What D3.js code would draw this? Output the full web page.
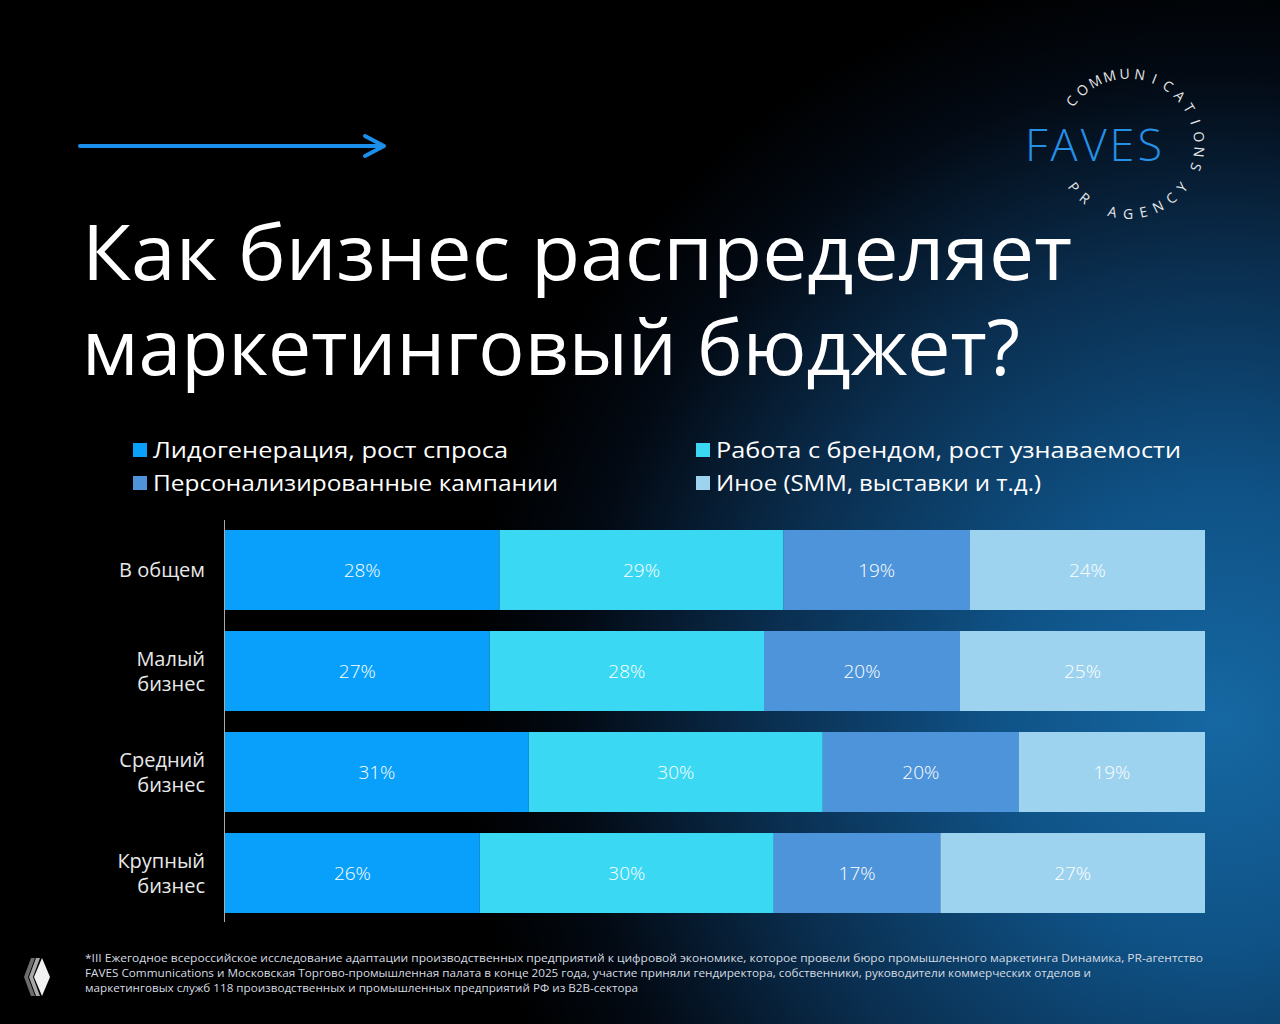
<!DOCTYPE html>
<html>
<head>
<meta charset="utf-8">
<script src="https://cdn.jsdelivr.net/npm/d3@7"></script>
<style>
  html, body { margin: 0; padding: 0; background: #000; }
  svg { display: block; }
</style>
</head>
<body>
<script>
// DATA
const categories = [['В общем'], ['Малый', 'бизнес'], ['Средний', 'бизнес'], ['Крупный', 'бизнес']];
const seriesNames = ['Лидогенерация, рост спроса', 'Работа с брендом, рост узнаваемости', 'Персонализированные кампании', 'Иное (SMM, выставки и т.д.)'];
const leadGen = [28, 27, 31, 26];
const brand = [29, 28, 30, 30];
const personal = [19, 20, 20, 17];
const other = [24, 25, 19, 27];
const colors = ['#08a0fa', '#3ad8f3', '#4d94da', '#9dd3ef'];

const width = 1280, height = 1024;
const fontMain = "'Open Sans', 'DejaVu Sans', sans-serif";

const svg = d3.select('body').append('svg').attr('width', width).attr('height', height);

// BACKGROUND
const defs = svg.append('defs');
const glow = defs.append('radialGradient').attr('id', 'glow')
    .attr('gradientUnits', 'userSpaceOnUse')
    .attr('cx', 1220).attr('cy', 720).attr('r', 760);
glow.append('stop').attr('offset', 0).attr('stop-color', '#1668a3');
glow.append('stop').attr('offset', 0.3).attr('stop-color', '#0f5286');
glow.append('stop').attr('offset', 0.6).attr('stop-color', '#0a2e4f');
glow.append('stop').attr('offset', 0.85).attr('stop-color', '#030a14');
glow.append('stop').attr('offset', 1).attr('stop-color', '#000');
svg.append('rect').attr('width', width).attr('height', height).attr('fill', '#000');
svg.append('rect').attr('width', width).attr('height', height).attr('fill', 'url(#glow)');

// ARROW
const arrow = svg.append('g').attr('stroke', '#1b8fe9').attr('stroke-width', 4).attr('fill', 'none').attr('stroke-linecap', 'round');
arrow.append('line').attr('x1', 80).attr('y1', 146).attr('x2', 383).attr('y2', 146);
arrow.append('path').attr('d', 'M365,136 L384,146 L365,156').attr('stroke-linejoin', 'round');

// LOGO
const logo = svg.append('g').attr('transform', 'translate(1128,145)');
logo.append('text')
    .attr('x', -33).attr('y', 16)
    .attr('text-anchor', 'middle')
    .style('font', `300 45px ${fontMain}`)
    .attr('letter-spacing', 3)
    .attr('fill', '#2590e6')
    .text('FAVES');

const placeArc = (str, a0, a1, r, bottom) => {
    const chars = str.split('');
    const step = (a1 - a0) / (chars.length - 1);
    chars.forEach((c, i) => {
        const a = a0 + step * i;
        const rad = a * Math.PI / 180;
        const x = r * Math.sin(rad), y = -r * Math.cos(rad);
        const rot = bottom ? a - 180 : a;
        logo.append('text')
            .attr('transform', `translate(${x},${y}) rotate(${rot})`)
            .attr('text-anchor', 'middle')
            .attr('dominant-baseline', 'middle')
            .style('font', `400 14px ${fontMain}`)
            .attr('fill', '#e6e6e6')
            .text(c);
    });
};
placeArc('COMMUNICATIONS', -52, 108, 70, false);
placeArc('PR AGENCY', 232, 128, 70, true);

// TITLE
const titleLines = ['Как бизнес распределяет', 'маркетинговый бюджет?'];
const titleWidths = [990, 938];
svg.append('g').selectAll('text').data(titleLines).join('text')
    .attr('x', 82)
    .attr('y', (d, i) => 280 + i * 95)
    .attr('textLength', (d, i) => titleWidths[i])
    .attr('lengthAdjust', 'spacingAndGlyphs')
    .style('font', `400 76px ${fontMain}`)
    .attr('fill', '#fff')
    .text(d => d);

// LEGEND
const legendPos = [[133, 450], [696, 450], [133, 483], [696, 483]];
const legendWidths = [355, 465, 405, 325];
const legend = svg.append('g').selectAll('g').data(seriesNames).join('g')
    .attr('transform', (d, i) => `translate(${legendPos[i][0]},${legendPos[i][1]})`);
legend.append('rect').attr('x', 0).attr('y', -7).attr('width', 14).attr('height', 14)
    .attr('fill', (d, i) => colors[i]);
legend.append('text')
    .attr('x', 20).attr('y', 8)
    .attr('textLength', (d, i) => legendWidths[i])
    .attr('lengthAdjust', 'spacingAndGlyphs')
    .style('font', `400 22px ${fontMain}`)
    .attr('fill', '#fff')
    .text(d => d);

// CHART
const rows = categories.map((c, i) => ({
    key: i, s0: leadGen[i], s1: brand[i], s2: personal[i], s3: other[i]
}));
const keys = ['s0', 's1', 's2', 's3'];
const stacked = d3.stack().keys(keys)(rows);

const x = d3.scaleLinear().domain([0, 100]).range([225, 1205]);
const y = d3.scaleBand().domain(d3.range(categories.length)).range([530, 913]).paddingInner(0.208).paddingOuter(0);

const layers = svg.append('g').selectAll('g').data(stacked).join('g')
    .attr('fill', (d, i) => colors[i]);
layers.selectAll('rect').data(d => d).join('rect')
    .attr('x', d => x(d[0]))
    .attr('y', (d, i) => y(i))
    .attr('width', d => x(d[1]) - x(d[0]))
    .attr('height', y.bandwidth());

layers.selectAll('text').data(d => d).join('text')
    .attr('x', d => (x(d[0]) + x(d[1])) / 2)
    .attr('y', (d, i) => y(i) + y.bandwidth() / 2)
    .attr('text-anchor', 'middle')
    .attr('dominant-baseline', 'central')
    .style('font', `300 19px ${fontMain}`)
    .attr('fill', '#fff')
    .text(d => (d[1] - d[0]) + '%');

// axis line
svg.append('line').attr('x1', 224.5).attr('x2', 224.5).attr('y1', 520).attr('y2', 922)
    .attr('stroke', '#aaa').attr('stroke-width', 1);

// category labels
const catLabels = svg.append('g').selectAll('text').data(categories).join('text')
    .attr('text-anchor', 'end')
    .style('font', `400 20px ${fontMain}`)
    .attr('fill', '#e8e8e8');
catLabels.selectAll('tspan').data((d, i) => d.map((t, j) => ({t, j, n: d.length, i}))).join('tspan')
    .attr('x', 205)
    .attr('y', d => y(d.i) + y.bandwidth() / 2 + (d.j - (d.n - 1) / 2) * 25)
    .attr('dominant-baseline', 'central')
    .text(d => d.t);

// FOOTER
const footLines = [
    '*III Ежегодное всероссийское исследование адаптации производственных предприятий к цифровой экономике, которое провели бюро промышленного маркетинга Dинамика, PR-агентство',
    'FAVES Communications и Московская Торгово-промышленная палата в конце 2025 года, участие приняли гендиректора, собственники, руководители коммерческих отделов и',
    'маркетинговых служб 118 производственных и промышленных предприятий РФ из B2B-сектора'
];
const footWidths = [1118, 1006, 553];
svg.append('g').selectAll('text').data(footLines).join('text')
    .attr('x', 85)
    .attr('y', (d, i) => 962 + i * 15)
    .attr('textLength', (d, i) => footWidths[i])
    .attr('lengthAdjust', 'spacingAndGlyphs')
    .style('font', `400 11px ${fontMain}`)
    .attr('fill', '#d6dce2')
    .text(d => d);

// bottom-left icon
const icon = svg.append('g').attr('transform', 'translate(41,977)');
icon.append('path').attr('d', 'M-10,-19 L-17,0 L-10,19 L-6,19 L-13,0 L-6,-19 Z').attr('fill', '#6d6d6d');
icon.append('path').attr('d', 'M-5,-19 L-12,0 L-5,19 L-1,19 L-8,0 L-1,-19 Z').attr('fill', '#a8a8a8');
icon.append('path').attr('d', 'M1,-19 L9,0 L1,19 L-7,0 Z').attr('fill', '#f2f2f2');
</script>
</body>
</html>
